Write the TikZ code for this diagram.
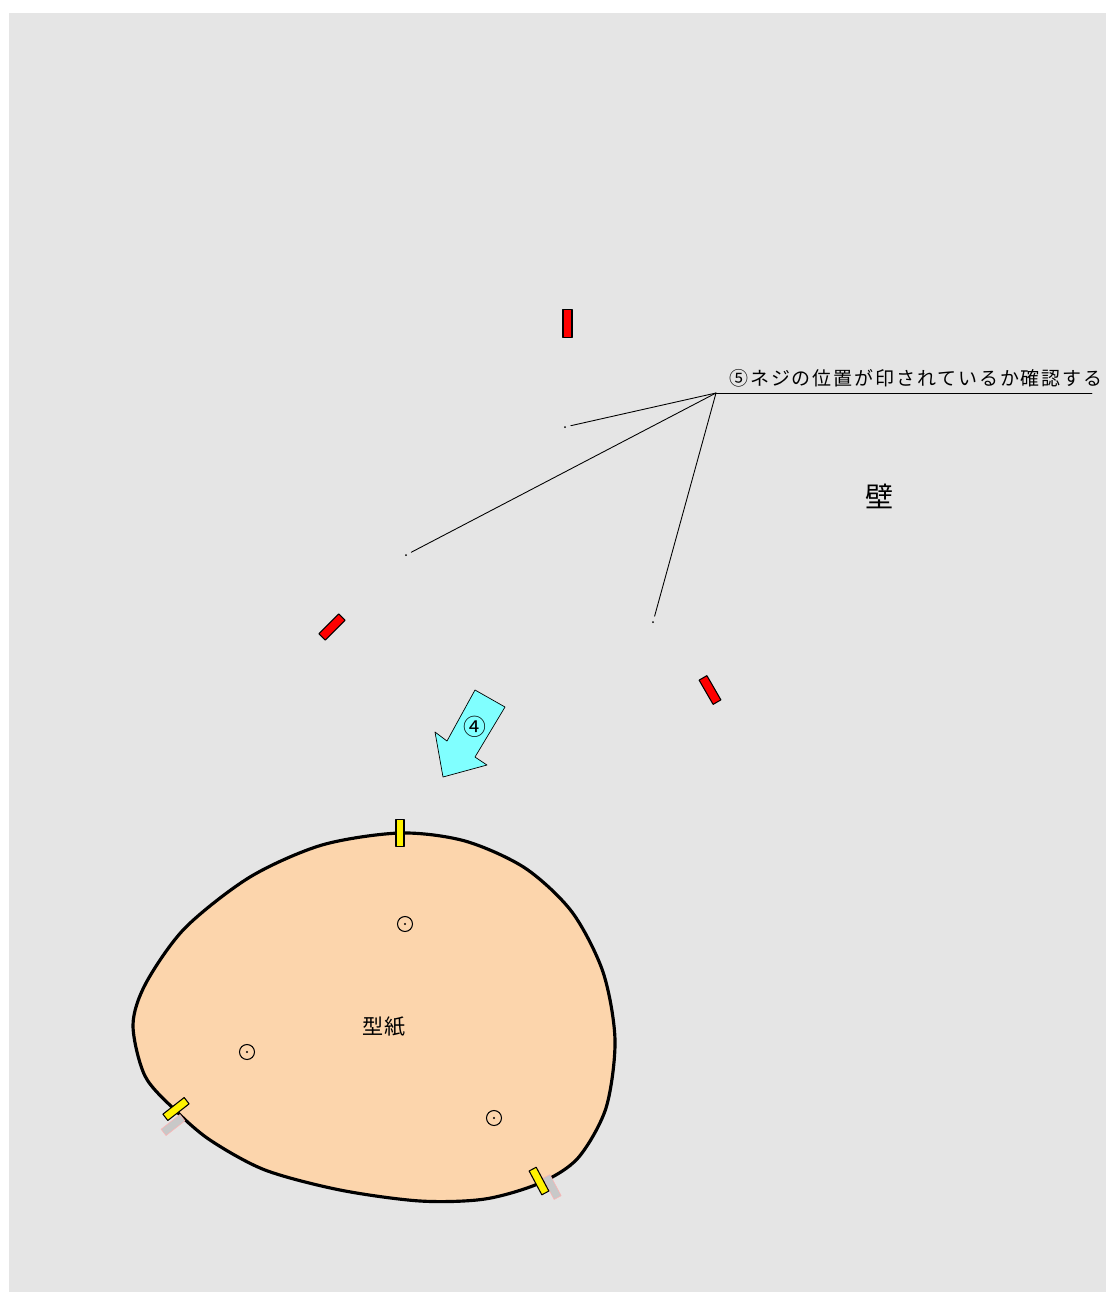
\documentclass[tikz,border=0pt]{standalone}
\usepackage{fontspec}
\newfontfamily\jpfont{Noto Sans CJK JP}
\newfontfamily\jpwide[LetterSpace=10]{Noto Sans CJK JP}
\definecolor{wallgray}{RGB}{229,229,229}
\definecolor{paper}{RGB}{252,213,172}
\definecolor{arrowcyan}{RGB}{128,255,255}
\definecolor{tabshadow}{RGB}{200,200,200}
\begin{document}
\begin{tikzpicture}[x=0.02cm,y=-0.02cm,line join=round,line cap=round,
	screw/.style={draw=black,fill=red,line width=0.6pt,inner sep=0pt,minimum width=0.56cm,minimum height=0.18cm},
	tape/.style={draw=black,fill=yellow,line width=0.6pt,inner sep=0pt,minimum width=0.54cm,minimum height=0.16cm},
	tapeshadow/.style={draw=red!30,fill=tabshadow,line width=0.3pt,inner sep=0pt,minimum width=0.48cm,minimum height=0.16cm},
	mark dot/.style={circle,fill=black,inner sep=0pt,minimum size=0.04cm,outer sep=0.1cm},
	hole/.style={circle,draw=black,line width=0.6pt,inner sep=0pt,minimum size=0.3cm}]
	\useasboundingbox (0,0) rectangle (1106,1292);
	\fill[wallgray] (9,13) rectangle (1106,1292);
	% screws on the wall
	\node[screw,rotate=90] (screwA) at (567.5,323.5) {};
	\node[screw,rotate=45] (screwB) at (332,627) {};
	\node[screw,rotate=-60] (screwC) at (710,690) {};
	% printed marks and note
	\node[mark dot] (markA) at (565,427) {};
	\node[mark dot] (markB) at (406,555) {};
	\node[mark dot] (markC) at (653,622) {};
	\coordinate (hub) at (716,393);
	\coordinate (noteend) at (1092,393);
	\draw[line width=0.5pt] (hub) -- (markA);
	\draw[line width=0.5pt] (hub) -- (markB);
	\draw[line width=0.5pt] (hub) -- (markC);
	\draw[line width=0.5pt] (hub) -- (noteend);
	\node[anchor=base west,inner sep=0pt,font=\jpwide\fontsize{10.8pt}{12pt}\selectfont] (note) at (729,385) {⑤ネジの位置が印されているか確認する};
	\node[font=\jpfont\fontsize{16pt}{18pt}\selectfont] (wall) at (880,496) {壁};
	% arrow
	\draw[fill=arrowcyan,line width=0.4pt] (475,690) -- (505,707) -- (475,757) -- (487,765) -- (443,777) -- (435,732) -- (447,741) -- cycle;
	\node[font=\jpfont\fontsize{13pt}{15pt}\selectfont] (step) at (475,727) {④};
	% template
	\draw[line width=1.8pt,fill=paper] plot[smooth cycle] coordinates {(400,833) (465,841) (525,868) (572,912) (603,972) (615,1040) (606,1108) (578,1158) (540,1183) (485,1199) (420,1201) (340,1190) (265,1170) (210,1140) (175,1110) (145,1076) (133,1025) (146,983) (185,928) (250,877) (322,845)};
	\node[font=\jpfont\fontsize{12pt}{14pt}\selectfont] (paperlabel) at (384,1027) {型紙};
	\foreach \x/\y/\n in {405/924/holeA,247/1052/holeB,494/1118/holeC}{
		\node[hole] (\n) at (\x,\y) {};
		\fill (\n.center) circle (1.2);
	}
	% tapes
	\node[tapeshadow,rotate=38] (shadowL) at (173,1125) {};
	\node[tapeshadow,rotate=-62] (shadowR) at (552,1187) {};
	\node[tape,rotate=90] (tapeT) at (400,833) {};
	\node[tape,rotate=38] (tapeL) at (176,1109) {};
	\node[tape,rotate=-62] (tapeR) at (539,1181) {};
\end{tikzpicture}
\end{document}
